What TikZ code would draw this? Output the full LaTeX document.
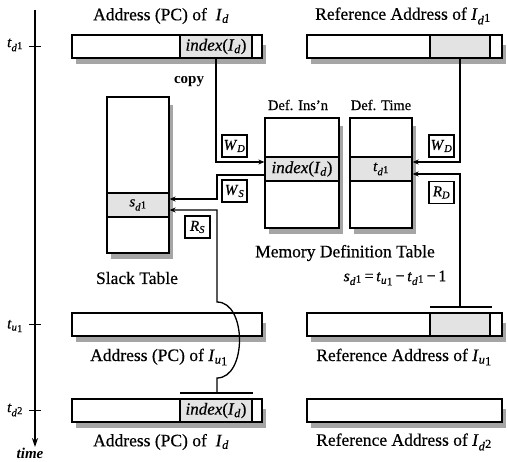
\documentclass[tikz,border=0pt]{standalone}
\usepackage{fontspec}
\setmainfont{Liberation Serif}[UprightFeatures={FakeBold=0.5},ItalicFeatures={FakeBold=0.5}]
\usetikzlibrary{arrows.meta}

\newcommand\LabFont{\fontsize{17.5}{19}\selectfont}
\newcommand\SmFont{\fontsize{14.5}{16}\selectfont}
\newcommand\dsup[1]{\textit{d}\kern.3pt\raisebox{.45ex}{#1}}
\newcommand\uone{\textit{u}\kern.2pt\raisebox{-.3ex}{1}}
\definecolor{shadowgray}{RGB}{165,165,165}

\begin{document}
\begin{tikzpicture}[x=1pt,y=-1pt,
  bar/.style={draw, line width=1.3pt, minimum height=23pt, inner sep=0pt, fill=white},
  seg/.style={draw, line width=1.1pt, minimum height=23pt, inner sep=0pt, fill=gray!22, font=\fontsize{17}{18}\selectfont},
  tbl/.style={draw, line width=1.3pt, inner sep=0pt, fill=white},
  rowc/.style={draw, line width=1.1pt, minimum height=24pt, inner sep=0pt, fill=gray!22},
  tag/.style={draw, line width=1.2pt, minimum width=25pt, minimum height=22pt, inner sep=0pt, fill=white, font=\fontsize{15}{16}\selectfont},
  lbl/.style={inner sep=0pt, font=\LabFont},
  conn/.style={line width=1.3pt},
  arr/.style={line width=1.3pt, -{Stealth[length=6pt,width=5pt]}}
]
\useasboundingbox (0,0) rectangle (508,462);

% shadows (drawn first, under the boxes)
\fill[shadowgray] (76,45) rectangle (266,64);
\fill[shadowgray] (311,45) rectangle (506,64);
\fill[shadowgray] (76,323) rectangle (266,342);
\fill[shadowgray] (311,323) rectangle (506,342);
\fill[shadowgray] (76,409) rectangle (266,428);
\fill[shadowgray] (311,409) rectangle (506,428);
\fill[shadowgray] (111,105) rectangle (173,259);
\fill[shadowgray] (269,126) rectangle (343,234);
\fill[shadowgray] (354,126) rectangle (416,234);

% time axis
\coordinate (ttop) at (35,10);
\coordinate (tbot) at (35,447);
\draw[line width=1.2pt, -{Stealth[length=9pt,width=6pt]}] (ttop) -- (tbot);
\foreach \y/\n in {46.5/a,324.5/b,410.5/c}{
  \coordinate (tk\n l) at (29,\y);
  \coordinate (tk\n r) at (41,\y);
  \draw[line width=1.2pt] (tk\n l) -- (tk\n r);
}
\node[lbl, font=\fontsize{15}{16}\selectfont] (tl1) at (15,45) {\textit{t}\textsubscript{\dsup{1}}};
\node[lbl, font=\fontsize{15}{16}\selectfont] (tl2) at (15,326) {\textit{t}\textsubscript{\uone}};
\node[lbl, font=\fontsize{15}{16}\selectfont] (tl3) at (15,410) {\textit{t}\textsubscript{\dsup{2}}};
\node[lbl, font=\fontsize{15}{16}\selectfont\bfseries\itshape] (tm) at (30,453) {time};

% bars
\node[bar, minimum width=190pt] (tlbar) at (167,46.5) {};
\node[seg, minimum width=72pt] (tlidx) at (216,46.5) {\textit{index}(\textit{I}\textsubscript{\textit{d}})};
\node[bar, minimum width=195pt] (trbar) at (404.5,46.5) {};
\node[seg, minimum width=60pt] (trsh) at (460,46.5) {};

\node[bar, minimum width=190pt] (mlbar) at (167,324.5) {};
\node[bar, minimum width=195pt] (mrbar) at (404.5,324.5) {};
\node[seg, minimum width=60pt] (mrsh) at (460,324.5) {};

\node[bar, minimum width=190pt] (blbar) at (167,410.5) {};
\node[seg, minimum width=72pt] (blidx) at (216,410.5) {\textit{index}(\textit{I}\textsubscript{\textit{d}})};
\node[bar, minimum width=195pt] (brbar) at (404.5,410.5) {};

% bar labels
\node[lbl] (l1) at (161,16) {Address (PC) of \ \textit{I}\textsubscript{\textit{d}}};
\node[lbl] (l2) at (403,16) {Reference Address of \textit{I}\textsubscript{\dsup{1}}};
\node[lbl] (l3) at (159,357) {Address (PC) of \textit{I}\textsubscript{\uone}};
\node[lbl] (l4) at (404,357) {Reference Address of \textit{I}\textsubscript{\uone}};
\node[lbl] (l5) at (161,442) {Address (PC) of \ \textit{I}\textsubscript{\textit{d}}};
\node[lbl] (l6) at (404,442) {Reference Address of \textit{I}\textsubscript{\dsup{2}}};

% slack table
\node[tbl, minimum width=62pt, minimum height=156pt] (slack) at (138,175) {};
\node[rowc, minimum width=62pt] (srow) at (138,205) {\fontsize{15}{16}\selectfont\textit{s}\textsubscript{\dsup{1}}};
\node[lbl] (slbl) at (137,278) {Slack Table};

% memory definition table
\node[tbl, minimum width=74pt, minimum height=110pt] (dins) at (302,173) {};
\node[rowc, minimum width=74pt] (drow) at (302,169) {\fontsize{17}{18}\selectfont\textit{index}(\textit{I}\textsubscript{\textit{d}})};
\node[tbl, minimum width=62pt, minimum height=110pt] (dtime) at (381,173) {};
\node[rowc, minimum width=62pt] (trow) at (381,169) {\fontsize{15}{16}\selectfont\textit{t}\textsubscript{\dsup{1}}};
\node[lbl, font=\SmFont] (hins) at (298,105) {Def. Ins'n};
\node[lbl, font=\SmFont] (htime) at (381,105) {Def. Time};
\node[lbl] (mlbl) at (345,253) {Memory Definition Table};
\node[lbl, font=\fontsize{16}{17}\selectfont] (frm) at (395,278) {\textit{s}\textsubscript{\dsup{1}}\,=\,\textit{t}\textsubscript{\uone}\,−\,\textit{t}\textsubscript{\dsup{1}}\,−\,1};

\node[lbl, font=\fontsize{15}{16}\selectfont\bfseries] (cp) at (189,82) {copy};

% connectors
\coordinate (c1) at (216,162);
\draw[arr] (tlidx.south) -- (c1) -- (c1 -| dins.west);

\coordinate (ws1) at (217,175);
\coordinate (ws2) at (217,199);
\draw[arr] (ws1 -| dins.west) -- (ws1) -- (ws2) -- (ws2 -| slack.east);

\coordinate (rs1) at (217,210);
\coordinate (rs2) at (217,302);
\coordinate (rs3) at (217,378);
\coordinate (rsT) at (217,393);
\coordinate (rsTl) at (180,393);
\coordinate (rsTr) at (253,393);
\draw[arr] (rsT) -- (rs3) .. controls (247,378) and (247,302) .. (rs2) -- (rs1) -- (rs1 -| slack.east);
\draw[conn] (rsTl) -- (rsTr);

\coordinate (wd1) at (460,162);
\draw[arr] (trsh.south) -- (wd1) -- (wd1 -| dtime.east);

\coordinate (rd1) at (460,174);
\coordinate (rdT) at (460,307);
\coordinate (rdTl) at (430,307);
\coordinate (rdTr) at (492,307);
\draw[arr] (rdT) -- (rd1) -- (rd1 -| dtime.east);
\draw[conn] (rdTl) -- (rdTr);

% tags
\node[tag] (twd1) at (234.5,146) {\textit{W}\textsubscript{\textit{D}}};
\node[tag] (tws) at (234.5,191) {\textit{W}\textsubscript{\textit{S}}};
\node[tag] (trs) at (197.5,227) {\textit{R}\textsubscript{\textit{S}}};
\node[tag] (twd2) at (441.5,146) {\textit{W}\textsubscript{\textit{D}}};
\node[tag] (trd) at (441.5,192.5) {\textit{R}\textsubscript{\textit{D}}};
\end{tikzpicture}
\end{document}
